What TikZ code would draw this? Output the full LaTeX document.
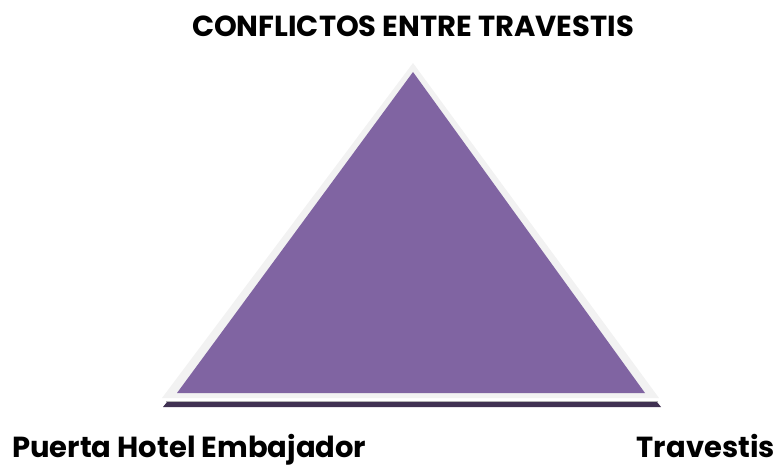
\documentclass[tikz,border=0pt]{standalone}
\usepackage{fontspec}
\setmainfont{Poppins}
\usepackage{xcolor}
\definecolor{trianglepurple}{RGB}{128,100,162}
\definecolor{edgegrey}{RGB}{242,242,242}
\definecolor{shadowpurple}{RGB}{64,49,82}
\tikzset{
    label text/.style={font=\fontsize{29}{32}\selectfont\bfseries, inner sep=0pt}
}

\begin{document}
\begin{tikzpicture}[x=1pt,y=1pt]
    \useasboundingbox (0,0) rectangle (778,467);

    % Shadow under the base
    \fill[shadowpurple] (167,65) -- (657,65) -- (661,60) -- (163,60) -- cycle;
    \draw[gray!60, line width=0.6pt] (166,66) -- (658,66);

    % Triangle with light edge
    \fill[edgegrey] (413,404) -- (659,69) -- (162,69) -- cycle;
    \fill[trianglepurple] (413,395) -- (645,74) -- (177,74) -- cycle;

    % Labels
    \node[label text, anchor=base] (title) at (413,430) {CONFLICTOS ENTRE TRAVESTIS};
    \node[label text, anchor=base west] (puerta) at (12,10) {Puerta Hotel Embajador};
    \node[label text, anchor=base east] (travestis) at (775,10) {Travestis};
\end{tikzpicture}
\end{document}
